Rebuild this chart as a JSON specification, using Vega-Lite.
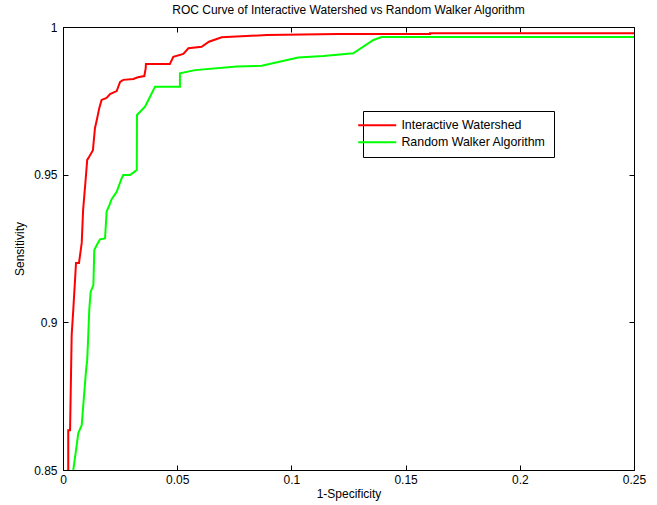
{
  "$schema": "https://vega.github.io/schema/vega-lite/v6.json",
  "autosize": "none",
  "width": 571,
  "height": 443,
  "padding": {"left": 63, "top": 27, "right": 23, "bottom": 35},
  "background": "white",
  "config": {
    "font": "Liberation Sans",
    "view": {"stroke": "black", "strokeWidth": 1},
    "axis": {"labelFont": "Liberation Sans", "titleFont": "Liberation Sans", "labelFontSize": 12, "titleFontSize": 12, "titleFontWeight": "normal", "labelColor": "#000", "titleColor": "#000", "domainColor": "#000", "tickColor": "#000", "grid": false}
  },
  "title": {"text": "ROC Curve of Interactive Watershed vs Random Walker Algorithm", "fontSize": 12, "fontWeight": "normal", "font": "Liberation Sans", "color": "#000", "offset": 4},
  "data": {"values": [
    {"fpr": 0.0023, "tpr": 0.85, "s": "Interactive Watershed", "o": 1},
    {"fpr": 0.0023, "tpr": 0.8635, "s": "Interactive Watershed", "o": 2},
    {"fpr": 0.0031, "tpr": 0.8635, "s": "Interactive Watershed", "o": 3},
    {"fpr": 0.0038, "tpr": 0.8957, "s": "Interactive Watershed", "o": 4},
    {"fpr": 0.0045, "tpr": 0.9042, "s": "Interactive Watershed", "o": 5},
    {"fpr": 0.0057, "tpr": 0.9201, "s": "Interactive Watershed", "o": 6},
    {"fpr": 0.0070, "tpr": 0.9201, "s": "Interactive Watershed", "o": 7},
    {"fpr": 0.0082, "tpr": 0.9269, "s": "Interactive Watershed", "o": 8},
    {"fpr": 0.0088, "tpr": 0.9380, "s": "Interactive Watershed", "o": 9},
    {"fpr": 0.0099, "tpr": 0.9482, "s": "Interactive Watershed", "o": 10},
    {"fpr": 0.0106, "tpr": 0.9550, "s": "Interactive Watershed", "o": 11},
    {"fpr": 0.0111, "tpr": 0.9556, "s": "Interactive Watershed", "o": 12},
    {"fpr": 0.0131, "tpr": 0.9583, "s": "Interactive Watershed", "o": 13},
    {"fpr": 0.0140, "tpr": 0.9658, "s": "Interactive Watershed", "o": 14},
    {"fpr": 0.0148, "tpr": 0.9685, "s": "Interactive Watershed", "o": 15},
    {"fpr": 0.0159, "tpr": 0.9726, "s": "Interactive Watershed", "o": 16},
    {"fpr": 0.0169, "tpr": 0.9753, "s": "Interactive Watershed", "o": 17},
    {"fpr": 0.0191, "tpr": 0.9760, "s": "Interactive Watershed", "o": 18},
    {"fpr": 0.0206, "tpr": 0.9773, "s": "Interactive Watershed", "o": 19},
    {"fpr": 0.0235, "tpr": 0.9783, "s": "Interactive Watershed", "o": 20},
    {"fpr": 0.0250, "tpr": 0.9814, "s": "Interactive Watershed", "o": 21},
    {"fpr": 0.0264, "tpr": 0.9821, "s": "Interactive Watershed", "o": 22},
    {"fpr": 0.0308, "tpr": 0.9824, "s": "Interactive Watershed", "o": 23},
    {"fpr": 0.0328, "tpr": 0.9830, "s": "Interactive Watershed", "o": 24},
    {"fpr": 0.0356, "tpr": 0.9834, "s": "Interactive Watershed", "o": 25},
    {"fpr": 0.0362, "tpr": 0.9860, "s": "Interactive Watershed", "o": 26},
    {"fpr": 0.0363, "tpr": 0.9875, "s": "Interactive Watershed", "o": 27},
    {"fpr": 0.0468, "tpr": 0.9875, "s": "Interactive Watershed", "o": 28},
    {"fpr": 0.0483, "tpr": 0.9899, "s": "Interactive Watershed", "o": 29},
    {"fpr": 0.0527, "tpr": 0.9909, "s": "Interactive Watershed", "o": 30},
    {"fpr": 0.0549, "tpr": 0.9928, "s": "Interactive Watershed", "o": 31},
    {"fpr": 0.0607, "tpr": 0.9933, "s": "Interactive Watershed", "o": 32},
    {"fpr": 0.0639, "tpr": 0.9950, "s": "Interactive Watershed", "o": 33},
    {"fpr": 0.0695, "tpr": 0.9965, "s": "Interactive Watershed", "o": 34},
    {"fpr": 0.0892, "tpr": 0.9973, "s": "Interactive Watershed", "o": 35},
    {"fpr": 0.1204, "tpr": 0.9976, "s": "Interactive Watershed", "o": 36},
    {"fpr": 0.1607, "tpr": 0.9976, "s": "Interactive Watershed", "o": 37},
    {"fpr": 0.1607, "tpr": 0.9979, "s": "Interactive Watershed", "o": 38},
    {"fpr": 0.25, "tpr": 0.9979, "s": "Interactive Watershed", "o": 39},
    {"fpr": 0.0045, "tpr": 0.85, "s": "Random Walker Algorithm", "o": 1},
    {"fpr": 0.0060, "tpr": 0.8584, "s": "Random Walker Algorithm", "o": 2},
    {"fpr": 0.0067, "tpr": 0.8625, "s": "Random Walker Algorithm", "o": 3},
    {"fpr": 0.0082, "tpr": 0.8652, "s": "Random Walker Algorithm", "o": 4},
    {"fpr": 0.0093, "tpr": 0.8761, "s": "Random Walker Algorithm", "o": 5},
    {"fpr": 0.0101, "tpr": 0.8838, "s": "Random Walker Algorithm", "o": 6},
    {"fpr": 0.0106, "tpr": 0.8872, "s": "Random Walker Algorithm", "o": 7},
    {"fpr": 0.0111, "tpr": 0.8964, "s": "Random Walker Algorithm", "o": 8},
    {"fpr": 0.0115, "tpr": 0.9042, "s": "Random Walker Algorithm", "o": 9},
    {"fpr": 0.0121, "tpr": 0.9103, "s": "Random Walker Algorithm", "o": 10},
    {"fpr": 0.0133, "tpr": 0.9126, "s": "Random Walker Algorithm", "o": 11},
    {"fpr": 0.0137, "tpr": 0.9245, "s": "Random Walker Algorithm", "o": 12},
    {"fpr": 0.0148, "tpr": 0.9262, "s": "Random Walker Algorithm", "o": 13},
    {"fpr": 0.0162, "tpr": 0.9281, "s": "Random Walker Algorithm", "o": 14},
    {"fpr": 0.0184, "tpr": 0.9284, "s": "Random Walker Algorithm", "o": 15},
    {"fpr": 0.0191, "tpr": 0.9375, "s": "Random Walker Algorithm", "o": 16},
    {"fpr": 0.0203, "tpr": 0.9397, "s": "Random Walker Algorithm", "o": 17},
    {"fpr": 0.0213, "tpr": 0.9417, "s": "Random Walker Algorithm", "o": 18},
    {"fpr": 0.0235, "tpr": 0.9442, "s": "Random Walker Algorithm", "o": 19},
    {"fpr": 0.0257, "tpr": 0.9488, "s": "Random Walker Algorithm", "o": 20},
    {"fpr": 0.0264, "tpr": 0.9499, "s": "Random Walker Algorithm", "o": 21},
    {"fpr": 0.0293, "tpr": 0.9499, "s": "Random Walker Algorithm", "o": 22},
    {"fpr": 0.0308, "tpr": 0.9507, "s": "Random Walker Algorithm", "o": 23},
    {"fpr": 0.0323, "tpr": 0.9516, "s": "Random Walker Algorithm", "o": 24},
    {"fpr": 0.0324, "tpr": 0.9702, "s": "Random Walker Algorithm", "o": 25},
    {"fpr": 0.0359, "tpr": 0.9730, "s": "Random Walker Algorithm", "o": 26},
    {"fpr": 0.0381, "tpr": 0.9764, "s": "Random Walker Algorithm", "o": 27},
    {"fpr": 0.0403, "tpr": 0.9798, "s": "Random Walker Algorithm", "o": 28},
    {"fpr": 0.0512, "tpr": 0.9798, "s": "Random Walker Algorithm", "o": 29},
    {"fpr": 0.0512, "tpr": 0.9843, "s": "Random Walker Algorithm", "o": 30},
    {"fpr": 0.0578, "tpr": 0.9854, "s": "Random Walker Algorithm", "o": 31},
    {"fpr": 0.0761, "tpr": 0.9866, "s": "Random Walker Algorithm", "o": 32},
    {"fpr": 0.0870, "tpr": 0.9869, "s": "Random Walker Algorithm", "o": 33},
    {"fpr": 0.1030, "tpr": 0.9897, "s": "Random Walker Algorithm", "o": 34},
    {"fpr": 0.1140, "tpr": 0.9902, "s": "Random Walker Algorithm", "o": 35},
    {"fpr": 0.1271, "tpr": 0.9911, "s": "Random Walker Algorithm", "o": 36},
    {"fpr": 0.1359, "tpr": 0.9956, "s": "Random Walker Algorithm", "o": 37},
    {"fpr": 0.1395, "tpr": 0.9966, "s": "Random Walker Algorithm", "o": 38},
    {"fpr": 0.25, "tpr": 0.9966, "s": "Random Walker Algorithm", "o": 39}
  ]},
  "layer": [
    {
      "mark": {"type": "line", "strokeWidth": 2, "clip": true},
      "encoding": {
        "x": {"field": "fpr", "type": "quantitative", "scale": {"domain": [0, 0.25], "nice": false, "zero": false},
              "axis": {"title": "1-Specificity", "values": [0, 0.05, 0.1, 0.15, 0.2, 0.25], "format": "~g", "tickSize": -5, "labelPadding": 9, "titlePadding": 3, "labelFlush": false}},
        "y": {"field": "tpr", "type": "quantitative", "scale": {"domain": [0.85, 1], "nice": false, "zero": false},
              "axis": {"title": "Sensitivity", "values": [0.85, 0.9, 0.95, 1], "format": "~g", "tickSize": -5, "labelPadding": 11, "titlePadding": 7, "labelFlush": false}},
        "order": {"field": "o", "type": "quantitative"},
        "color": {"field": "s", "type": "nominal",
          "scale": {"domain": ["Interactive Watershed", "Random Walker Algorithm"], "range": ["#ff0000", "#00ff00"]},
          "legend": {"title": null, "orient": "none", "legendX": 300, "legendY": 84, "symbolType": "M-3.8,0H3.8", "symbolSize": 100, "symbolStrokeWidth": 2, "labelFontSize": 12.4, "labelFont": "Liberation Sans", "labelColor": "#000", "strokeColor": "#000", "fillColor": "white", "padding": 8, "labelOffset": 18, "rowPadding": 4}}
      }
    },
    {
      "mark": {"type": "point", "opacity": 0},
      "encoding": {
        "x": {"field": "fpr", "type": "quantitative", "scale": {"domain": [0, 0.25], "nice": false, "zero": false},
              "axis": {"orient": "top", "title": null, "labels": false, "domain": false, "values": [0, 0.05, 0.1, 0.15, 0.2, 0.25], "tickSize": -5}},
        "y": {"field": "tpr", "type": "quantitative", "scale": {"domain": [0.85, 1], "nice": false, "zero": false},
              "axis": {"orient": "right", "title": null, "labels": false, "domain": false, "values": [0.85, 0.9, 0.95, 1], "tickSize": -5}}
      }
    }
  ],
  "resolve": {"scale": {"x": "independent", "y": "independent"}}
}
